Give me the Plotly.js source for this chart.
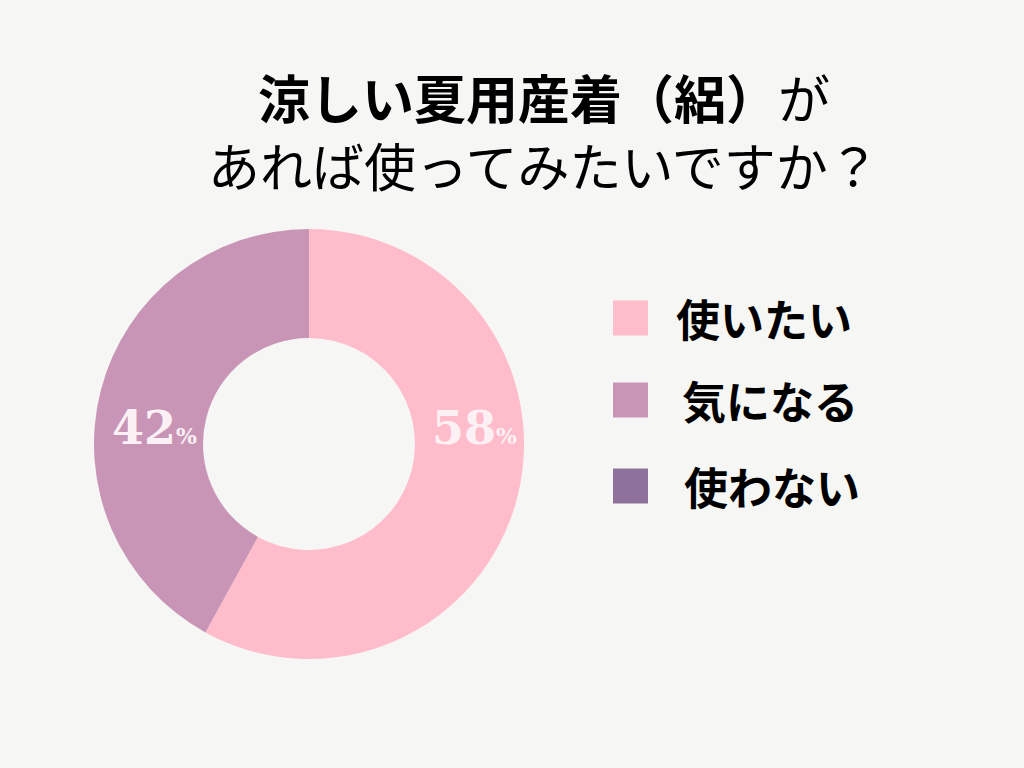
<!DOCTYPE html>
<html>
<head>
<meta charset="utf-8">
<script src="https://cdn.plot.ly/plotly-3.0.1.min.js"></script>
<style>
  html, body { margin: 0; padding: 0; background: #f6f6f4; }
  #chart { width: 1024px; height: 768px; }
</style>
</head>
<body>
<div id="chart"></div>
<script>
// --- Data ---
const LABELS = ['使いたい', '気になる', '使わない'];
const VALUES = [58, 42, 0];
const COLORS = ['#ffbccb', '#c995b7', '#8f729c'];

const TITLE_BOLD = '涼しい夏用産着（絽）';
const TITLE_REST = 'が';
const TITLE_LINE2 = 'あれば使ってみたいですか？';

const W = 1024, H = 768;
const FONT_JP = '"Noto Sans CJK JP", "Noto Sans", sans-serif';
const FONT_NUM = '"DejaVu Serif", serif';

// pie geometry (px) -> paper domain
const CX = 309, CY = 444, R = 215;
const dom = {
  x: [(CX - R) / W, (CX + R) / W],
  y: [1 - (CY + R) / H, 1 - (CY - R) / H]
};

const pie = {
  type: 'pie',
  labels: LABELS,
  values: VALUES,
  marker: { colors: COLORS, line: { width: 0 } },
  hole: 0.493,
  sort: false,
  direction: 'clockwise',
  rotation: 0,
  textinfo: 'none',
  hoverinfo: 'label+percent',
  showlegend: false,
  domain: dom
};

function px(x, y) { return { x: x / W, y: 1 - y / H }; }

const annotations = [];

// --- Title (two lines, one text) ---
const tp = px(544, 131);
annotations.push({
  xref: 'paper', yref: 'paper', x: tp.x, y: tp.y,
  xanchor: 'center', yanchor: 'middle', showarrow: false,
  text: '<b>' + TITLE_BOLD + '</b>' + TITLE_REST + '<br>' + TITLE_LINE2,
  font: { family: FONT_JP, size: 52, color: '#000000' }
});

// --- Percent labels ---
const labelPos = [[474, 428], [154, 428]];
VALUES.forEach(function (v, i) {
  if (!v || !labelPos[i]) return;
  const p = px(labelPos[i][0], labelPos[i][1]);
  annotations.push({
    xref: 'paper', yref: 'paper', x: p.x, y: p.y,
    xanchor: 'center', yanchor: 'middle', showarrow: false,
    text: v + '<span style="font-size:22px">%</span>',
    font: { family: FONT_NUM, size: 46, color: '#fbf1f5', weight: 600 }
  });
});

// --- Custom legend ---
const shapes = [];
const legendRows = [318, 400, 486];
const legendTextX = [674, 680, 682];
LABELS.forEach(function (lbl, i) {
  const y = legendRows[i];
  shapes.push({
    type: 'rect', xref: 'paper', yref: 'paper',
    x0: 613 / W, x1: 648 / W,
    y0: 1 - (y + 17.5) / H, y1: 1 - (y - 17.5) / H,
    fillcolor: COLORS[i], line: { width: 0 }
  });
  const p = px(legendTextX[i], y);
  annotations.push({
    xref: 'paper', yref: 'paper', x: p.x, y: p.y,
    xanchor: 'left', yanchor: 'middle', showarrow: false,
    text: '<b>' + lbl + '</b>',
    font: { family: FONT_JP, size: 44, color: '#000000' }
  });
});

const layout = {
  width: W, height: H,
  margin: { l: 0, r: 0, t: 0, b: 0 },
  paper_bgcolor: '#f6f6f4',
  plot_bgcolor: '#f6f6f4',
  showlegend: false,
  shapes: shapes,
  annotations: annotations
};

Plotly.newPlot('chart', [pie], layout, { displayModeBar: false, staticPlot: true });
</script>
</body>
</html>
